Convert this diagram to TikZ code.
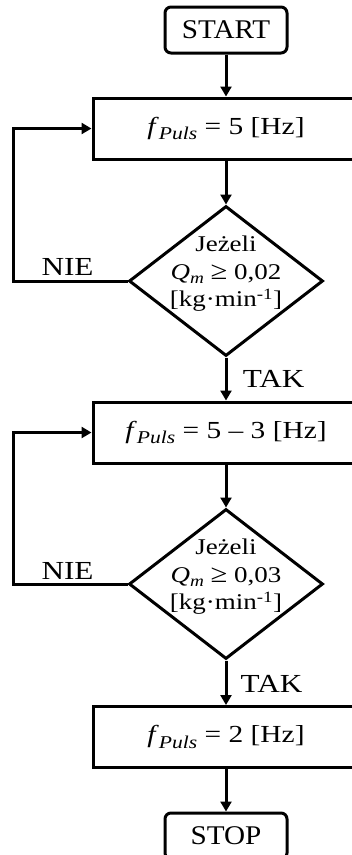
\documentclass[tikz,border=0pt]{standalone}
\usepackage{fontspec}
\setmainfont{Liberation Serif}[FakeStretch=1.2]
\newfontfamily\termfont{Liberation Serif}[FakeStretch=1.08]
\usetikzlibrary{shapes.geometric,arrows.meta}

\tikzset{
  flow/.style={line width=3pt},
  arr/.style={flow, -{Triangle[length=10pt,width=11pt]}},
  terminal/.style={flow, draw, rounded corners=6pt, minimum width=122pt,
    minimum height=46pt, inner sep=0pt, font=\termfont\fontsize{27}{30}\selectfont},
  process/.style={flow, draw, minimum width=266pt, minimum height=61pt,
    inner sep=0pt, font=\fontsize{24.5}{28}\selectfont},
  decision/.style={flow, draw, diamond, minimum width=194pt,
    minimum height=150pt, inner sep=0pt},
  condtext/.style={align=center, inner sep=0pt,
    font=\fontsize{22.5}{27.5}\selectfont},
  lbl/.style={inner sep=0pt, font=\fontsize{26}{30}\selectfont},
}
\newcommand{\fpuls}{\textit{f}\raisebox{-0.22em}{\fontsize{18}{18}\selectfont\textit{Puls}}}
\newcommand{\qm}{\textit{Q}\raisebox{-0.2em}{\fontsize{16}{16}\selectfont\textit{m}}}
\newcommand{\geqsign}{{\fontsize{25.5}{25.5}\selectfont ≥}}

\begin{document}
\begin{tikzpicture}[x=1pt,y=1pt]
  \useasboundingbox (0,0) rectangle (352,-855);
  \clip (0,0) rectangle (352,-855);

  % steps of the pulse-frequency control
  \node[terminal] (start) at (226,-30) {START};
  \node[process]  (b1)    at (226,-128.5) {\fpuls{} = 5 [Hz]};
  \node[decision] (d1)    at (226,-281) {};
  \node[condtext] (t1)    at (226,-274) {Jeżeli\\ \qm{} \geqsign{} 0,02\\ {[}kg·min\textsuperscript{-1}{]}};
  \node[process]  (b2)    at (226,-432.5) {\fpuls{} = 5 – 3 [Hz]};
  \node[decision] (d2)    at (226,-584) {};
  \node[condtext] (t2)    at (226,-577) {Jeżeli\\ \qm{} \geqsign{} 0,03\\ {[}kg·min\textsuperscript{-1}{]}};
  \node[process]  (b3)    at (226,-737) {\fpuls{} = 2 [Hz]};
  \node[terminal] (stop)  at (226,-836) {STOP};

  % branch labels
  \node[lbl] (nie1) at (67.5,-266.7) {NIE};
  \node[lbl] (tak1) at (273.7,-378.7) {TAK};
  \node[lbl] (nie2) at (67.5,-570.5) {NIE};
  \node[lbl] (tak2) at (271.5,-684.2) {TAK};

  % main flow
  \draw[arr] (start) -- (b1);
  \draw[arr] (b1) -- (d1);
  \draw[arr] (d1) -- (b2);
  \draw[arr] (b2) -- (d2);
  \draw[arr] (d2) -- (b3);
  \draw[arr] (b3) -- (stop);

  % feedback loops
  \coordinate (l1) at (13,-281);
  \coordinate (l2) at (13,-584);
  \draw[arr] (d1.west) -- (l1) |- (b1.west);
  \draw[arr] (d2.west) -- (l2) |- (b2.west);
\end{tikzpicture}
\end{document}
